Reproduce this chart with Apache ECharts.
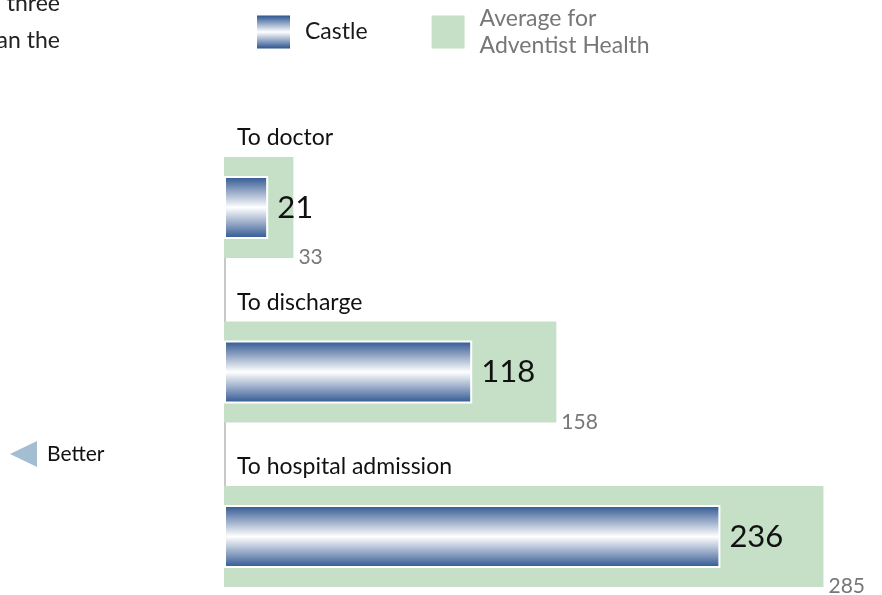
<!DOCTYPE html>
<html>
<head>
<meta charset="utf-8">
<script src="https://cdn.jsdelivr.net/npm/echarts@6/dist/echarts.min.js"></script>
<style>html,body{margin:0;padding:0;background:#fff;}#c{width:882px;height:595px;}</style>
</head>
<body>
<div id="c"></div>
<script>
var categories = ['To doctor', 'To discharge', 'To hospital admission'];
var castleValues = [21, 118, 236];
var averageValues = [33, 158, 285];
var seriesNames = ['Castle', 'Average for\nAdventist Health'];

var FONT = 'Lato';
var chart = echarts.init(document.getElementById('c'), null, {renderer: 'canvas'});
var blueGrad = new echarts.graphic.LinearGradient(0, 0, 0, 1, [
  {offset: 0, color: '#2a5490'},
  {offset: 0.22, color: '#8a9fc0'},
  {offset: 0.5, color: '#ffffff'},
  {offset: 0.78, color: '#8a9fc0'},
  {offset: 1, color: '#2a5490'}
]);
chart.setOption({
  animation: false,
  textStyle: {fontFamily: FONT},
  legend: {
    left: 252, top: 0,
    itemWidth: 33, itemHeight: 33, itemGap: 64,
    icon: 'rect',
    data: [
      {name: seriesNames[0], itemStyle: {borderWidth: 0}, textStyle: {color: '#1a1a1a'}},
      {name: seriesNames[1], itemStyle: {borderWidth: 0}, textStyle: {color: '#777777'}}
    ],
    textStyle: {fontFamily: FONT, fontSize: 23, lineHeight: 27, padding: [0, 0, 0, 10]}
  },
  grid: {left: 224, width: 631, top: 207.5, bottom: 58.5, containLabel: false},
  xAxis: {type: 'value', min: 0, max: 300, show: false},
  yAxis: [{
    type: 'category', data: categories, inverse: true, boundaryGap: false, offset: -1,
    axisLine: {show: true, lineStyle: {color: '#c8c8c8', width: 2}},
    axisTick: {show: false},
    splitLine: {show: false},
    axisLabel: {inside: true, margin: 12, interval: 0, color: '#111', fontSize: 23, fontFamily: FONT,
      align: 'left', verticalAlign: 'bottom', padding: [0, 0, 58, 0]}
  }, {
    type: 'category', data: categories, inverse: true, boundaryGap: false, show: false
  }],
  series: [{
    name: seriesNames[1], type: 'bar', yAxisIndex: 1, data: averageValues, barWidth: 101, z: 1,
    itemStyle: {color: '#c5e0c6'},
    label: {show: true, position: 'right', distance: 5, offset: [0, 50], color: '#777', fontSize: 21, fontFamily: FONT}
  }, {
    name: seriesNames[0], type: 'bar', yAxisIndex: 0, data: castleValues, barWidth: 63, z: 3,
    itemStyle: {color: blueGrad, borderColor: '#fff', borderWidth: 2},
    label: {show: true, position: 'right', distance: 9, color: '#111', fontSize: 31, fontFamily: FONT}
  }],
  graphic: [
    {type: 'text', right: 822, top: -7.5, style: {text: 'three', fontSize: 23, fontFamily: FONT, fill: '#222'}},
    {type: 'text', right: 822, top: 29.5, style: {text: 'than the', fontSize: 23, fontFamily: FONT, fill: '#222'}},
    {type: 'polygon', shape: {points: [[10, 454], [37, 441], [37, 467]]}, style: {fill: '#a3bdd3'}},
    {type: 'text', left: 47, top: 444, style: {text: 'Better', fontSize: 21, fontFamily: FONT, fill: '#111'}}
  ]
});
</script>
</body>
</html>
